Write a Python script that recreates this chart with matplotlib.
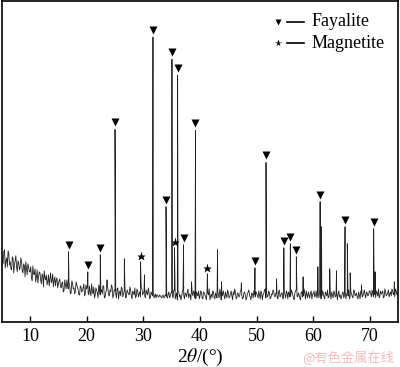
import numpy as np
import matplotlib
matplotlib.use('Agg')
import matplotlib.pyplot as plt

plt.rcParams['font.family'] = ['Liberation Serif', 'DejaVu Serif']
plt.rcParams['mathtext.fontset'] = 'stix'

# scan: 2theta from 5 to 75 deg, step 0.125 deg; background counts
theta_start, theta_stop, theta_step = 5.0, 75.0, 0.25
# counts at 5.00, 5.25, ... 75.00
background = [
    66, 58, 72, 61, 55, 68, 60, 52, 63, 57, 66, 50, 59, 54, 61, 49, 56, 60, 47, 55,
    50, 44, 56, 47, 40, 52, 45, 49, 38, 46, 51, 42, 37, 47, 43, 39, 48, 41, 36, 44,
    38, 43, 34, 40, 31, 37, 42, 33, 36, 29, 39, 34, 30, 37, 32, 27, 35, 31, 38, 28,
    33, 29, 36, 26, 31, 35, 27, 32, 24, 34, 30, 28, 36, 25, 31, 33, 26, 30, 35, 27,
    31, 24, 34, 29, 26, 33, 28, 35, 25, 30, 27, 32, 23, 29, 34, 26, 31, 28, 25, 33,
    29, 26, 32, 27, 30, 25, 28, 31, 26, 24, 27, 25, 26, 24, 27, 25, 26, 24, 30, 26,
    29, 24, 31, 26, 22, 30, 27, 25, 32, 23, 28, 30, 24, 27, 33, 26, 29, 23, 28, 31,
    26, 30, 23, 29, 25, 32, 27, 22, 28, 31, 25, 29, 24, 27, 33, 22, 28, 26, 30, 24,
    29, 25, 31, 22, 27, 30, 24, 28, 26, 32, 23, 29, 27, 24, 30, 26, 22, 28, 31, 25,
    29, 24, 27, 31, 22, 28, 33, 30, 26, 29, 24, 27, 31, 25, 28, 23, 32, 26, 29, 24,
    27, 31, 23, 28, 26, 30, 24, 29, 33, 25, 27, 22, 30, 26, 28, 31, 24, 27, 29, 23,
    28, 25, 31, 27, 24, 30, 26, 29, 23, 28, 32, 25, 27, 30, 24, 29, 26, 22, 31, 27,
    25, 30, 27, 23, 29, 32, 26, 28, 24, 31, 27, 25, 30, 23, 28, 26, 32, 24, 29, 27,
    31, 25, 28, 30, 24, 29, 33, 26, 28, 31, 25, 30, 27, 32, 28, 26, 31, 29, 33, 27, 30,
]
# counts at 5.125, 5.375, ... 74.875
background_mid = [
    60, 70, 54, 64, 71, 57, 53, 65, 49, 62, 55, 61, 52, 64, 51, 58, 45, 53, 58, 50,
    55, 41, 48, 53, 45, 39, 50, 42, 48, 35, 44, 47, 40, 36, 49, 41, 35, 45, 42, 34,
    41, 35, 39, 30, 42, 33, 36, 39, 28, 41, 33, 28, 40, 35, 27, 36, 30, 34, 26, 37,
    36, 27, 30, 38, 28, 24, 34, 29, 37, 27, 32, 36, 24, 30, 35, 27, 32, 37, 24, 32,
    28, 33, 23, 31, 35, 25, 30, 24, 32, 28, 35, 26, 31, 27, 24, 33, 25, 30, 35, 27,
    31, 24, 29, 34, 23, 30, 26, 24, 28, 27, 25, 27, 25, 26, 24, 27, 25, 28, 24, 29,
    26, 32, 23, 29, 31, 25, 22, 30, 27, 29, 25, 33, 28, 22, 29, 31, 24, 30, 26, 23,
    31, 24, 30, 27, 22, 29, 33, 26, 24, 30, 23, 27, 31, 24, 29, 26, 31, 23, 27, 32,
    24, 28, 26, 30, 33, 23, 29, 25, 31, 27, 24, 30, 22, 28, 32, 25, 29, 24, 27, 30,
    26, 31, 23, 29, 27, 32, 24, 25, 31, 23, 28, 32, 26, 29, 24, 30, 25, 29, 23, 31,
    24, 29, 30, 25, 32, 27, 22, 31, 26, 29, 24, 30, 25, 33, 23, 27, 30, 24, 31, 28,
    31, 26, 24, 29, 32, 23, 31, 25, 30, 26, 24, 30, 23, 27, 31, 25, 30, 28, 25, 23,
    29, 24, 31, 28, 26, 23, 30, 25, 32, 26, 29, 23, 27, 31, 25, 29, 27, 30, 26, 31,
    28, 32, 25, 27, 31, 26, 24, 31, 29, 24, 33, 26, 29, 25, 30, 33, 27, 25, 31, 28,
]

# fayalite reflections (marked with a down triangle)
fay_pos = [16.8, 20.2, 22.4, 25.0, 31.7, 34.0, 35.05, 36.05, 37.1, 39.2,
           49.7, 51.65, 54.8, 55.95, 57.0, 61.2, 65.6, 70.65]
fay_int = [70, 50, 67, 192, 284, 115, 262, 246, 77, 191,
           54, 159, 74, 78, 65, 120, 95, 93]

# magnetite reflections (marked with a star)
mag_pos = [29.5, 35.5, 41.3]
mag_int = [60, 74, 48]

# other unlabelled reflections
oth_pos = [23.6, 26.65, 30.2, 38.5, 43.1, 43.8, 47.3, 53.5, 58.2, 60.8,
           61.45, 62.9, 64.1, 66.0, 66.5, 68.5, 70.9, 74.3]
oth_int = [42, 63, 47, 40, 72, 40, 39, 43, 45, 55,
           95, 53, 51, 78, 49, 37, 50, 40]

theta = np.arange(theta_start, theta_stop + theta_step / 2, theta_step)
theta_mid = theta[:-1] + theta_step / 2
x_all = np.concatenate([theta, theta_mid, fay_pos, mag_pos, oth_pos])
y_all = np.concatenate([background, background_mid, fay_int, mag_int, oth_int])
order = np.argsort(x_all, kind='stable')
x_all, y_all = x_all[order], y_all[order]

fig = plt.figure(figsize=(4.0, 3.67), dpi=100)
ax = fig.add_axes([0.00425, 0.1226, 0.9915, 0.8747])

ax.plot(x_all, y_all, color='#222222', lw=0.6)
ax.plot(fay_pos, np.array(fay_int) + 7, 'v', color='black', ms=5.5, mec='none')
ax.plot(mag_pos, np.array(mag_int) + 6, '*', color='black', ms=6.5, mec='none')

# legend drawn by hand: marker, short line, label
for yf, mk, ms, lab in [(0.936, 'v', 4.5, 'Fayalite'), (0.869, '*', 5.5, 'Magnetite')]:
    ax.plot([0.697], [yf], mk, color='black', ms=ms, mec='none', transform=ax.transAxes)
    ax.plot([0.719, 0.762], [yf, yf], color='black', lw=1.2, transform=ax.transAxes)
    ax.text(0.782, yf, lab, transform=ax.transAxes, fontsize=13, va='center', ha='left')

ax.set_xlim(5, 75)
ax.set_ylim(0, 320)
ax.set_xticks([10, 20, 30, 40, 50, 60, 70])
ax.set_yticks([])
ax.tick_params(axis='x', direction='in', length=4.5, width=1, labelsize=13, pad=4)
for s in ax.spines.values():
    s.set_linewidth(1.2)

ax.set_xlabel(r'2$\theta$/(°)', fontsize=14, labelpad=2)

fig.text(0.985, 1 - 358 / 367, '@有色金属在线', fontsize=9.5, color='#f4bcbc',
         ha='right', va='center', family=['Noto Sans CJK SC', 'DejaVu Sans'])

fig.savefig('out.png', dpi=100)
